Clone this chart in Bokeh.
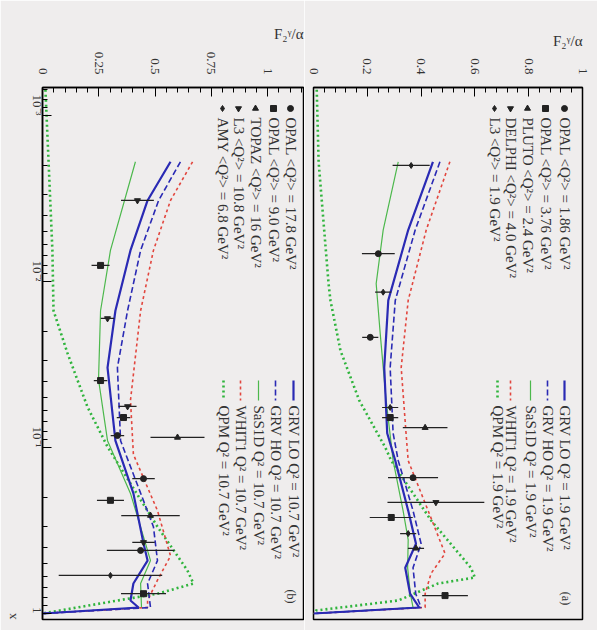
import math
from bokeh.plotting import figure
from bokeh.layouts import row
from bokeh.models import Range1d, FixedTicker, CustomJSTickFormatter, Label, ColumnDataSource, Title
from bokeh.embed import file_html
from bokeh.resources import INLINE

# ---------------- data ----------------
x_ticks = [0.001, 0.01, 0.1, 1.0]
x_tick_labels = ["10⁻³", "10⁻²", "10⁻¹", "1"]
b_f2_ticks = [0, 0.25, 0.5, 0.75, 1.0]
b_f2_labels = ["0", "0.25", "0.5", "0.75", "1"]
a_f2_ticks = [0, 0.2, 0.4, 0.6, 0.8, 1.0]
a_f2_labels = ["0", "0.2", "0.4", "0.6", "0.8", "1"]

# panel (a): low Q2
a_exp_names = ["OPAL <Q²> = 1.86 GeV²", "OPAL <Q²> = 3.76 GeV²", "PLUTO <Q²> = 2.4 GeV²",
               "DELPHI <Q²> = 4.0 GeV²", "L3 <Q²> = 1.9 GeV²"]
a_x = [0.0020, 0.0068, 0.0116, 0.0217, 0.0574, 0.066, 0.076, 0.152, 0.214, 0.264, 0.33, 0.405, 0.78]
a_f2 = [0.363, 0.241, 0.259, 0.211, 0.285, 0.285, 0.415, 0.370, 0.455, 0.289, 0.352, 0.381, 0.489]
a_err = [0.069, 0.061, 0.03, 0.03, 0.03, 0.03, 0.083, 0.093, 0.18, 0.08, 0.03, 0.03, 0.085]
a_exp = [4, 0, 4, 0, 4, 1, 2, 0, 3, 1, 4, 2, 1]

a_curve_names = ["GRV LO Q² = 1.9 GeV²", "GRV HO Q² = 1.9 GeV²", "SaS1D Q² = 1.9 GeV²",
                 "WHIT1 Q² = 1.9 GeV²", "QPM Q² = 1.9 GeV²"]
a_grvlo_x = [0.0019, 0.0049, 0.013, 0.033, 0.082, 0.12, 0.24, 0.38, 0.53, 0.76, 0.92, 1.0]
a_grvlo = [0.444, 0.352, 0.278, 0.263, 0.274, 0.304, 0.352, 0.381, 0.341, 0.359, 0.393, 0.0]
a_grvho_x = [0.0019, 0.0049, 0.013, 0.033, 0.082, 0.12, 0.24, 0.38, 0.53, 0.76, 0.92, 1.0]
a_grvho = [0.470, 0.378, 0.304, 0.285, 0.296, 0.315, 0.370, 0.400, 0.370, 0.380, 0.400, 0.0]
a_sas_x = [0.0019, 0.0049, 0.0103, 0.0206, 0.052, 0.12, 0.24, 0.36, 0.53, 0.76, 0.92, 1.0]
a_sas = [0.315, 0.259, 0.233, 0.248, 0.270, 0.296, 0.333, 0.352, 0.350, 0.360, 0.370, 0.0]
a_whit_x = [0.0019, 0.0049, 0.013, 0.033, 0.082, 0.12, 0.24, 0.435, 0.574, 0.76, 0.92, 1.0]
a_whit = [0.507, 0.419, 0.352, 0.326, 0.344, 0.352, 0.426, 0.489, 0.437, 0.415, 0.415, 0.0]
a_qpm_x = [0.0007, 0.0019, 0.0103, 0.013, 0.026, 0.052, 0.10, 0.12, 0.275, 0.53, 0.607, 0.66, 0.835, 0.959, 1.0]
a_qpm = [0.012, 0.019, 0.056, 0.063, 0.100, 0.170, 0.267, 0.289, 0.437, 0.585, 0.600, 0.463, 0.315, 0.010, 0.0]

# panel (b): higher Q2
b_exp_names = ["OPAL <Q²> = 17.8 GeV²", "OPAL <Q²> = 9.0 GeV²", "TOPAZ <Q²> = 16 GeV²",
               "L3 <Q²> = 10.8 GeV²", "AMY <Q²> = 6.8 GeV²"]
b_x = [0.00325, 0.008, 0.0167, 0.0395, 0.0566, 0.066, 0.0847, 0.087, 0.154, 0.208, 0.257, 0.373, 0.417, 0.59, 0.76]
b_f2 = [0.422, 0.258, 0.289, 0.258, 0.378, 0.360, 0.333, 0.600, 0.449, 0.302, 0.480, 0.449, 0.436, 0.302, 0.449]
b_err = [0.073, 0.04, 0.03, 0.03, 0.04, 0.03, 0.03, 0.12, 0.05, 0.06, 0.13, 0.05, 0.15, 0.23, 0.10]
b_exp = [3, 1, 3, 1, 3, 1, 0, 2, 0, 1, 2, 3, 0, 4, 1]

b_curve_names = ["GRV LO Q² = 10.7 GeV²", "GRV HO Q² = 10.7 GeV²", "SaS1D Q² = 10.7 GeV²",
                 "WHIT1 Q² = 10.7 GeV²", "QPM Q² = 10.7 GeV²"]
b_grvlo_x = [0.0019, 0.00325, 0.0065, 0.015, 0.033, 0.091, 0.189, 0.379, 0.48, 0.66, 0.835, 0.92, 1.0]
b_grvlo = [0.569, 0.467, 0.391, 0.324, 0.289, 0.324, 0.404, 0.449, 0.467, 0.404, 0.391, 0.427, 0.0]
b_grvho_x = [0.0019, 0.00325, 0.0065, 0.015, 0.033, 0.091, 0.30, 0.48, 0.66, 0.92, 1.0]
b_grvho = [0.613, 0.516, 0.436, 0.378, 0.333, 0.347, 0.493, 0.511, 0.467, 0.480, 0.0]
b_sas_x = [0.0019, 0.0065, 0.015, 0.039, 0.091, 0.189, 0.379, 0.48, 0.66, 0.92, 1.0]
b_sas = [0.413, 0.302, 0.258, 0.249, 0.289, 0.391, 0.458, 0.480, 0.436, 0.440, 0.0]
b_whit_x = [0.0019, 0.00325, 0.0065, 0.015, 0.052, 0.11, 0.24, 0.45, 0.63, 0.835, 0.92, 1.0]
b_whit = [0.667, 0.569, 0.493, 0.436, 0.391, 0.404, 0.511, 0.569, 0.511, 0.467, 0.467, 0.0]
b_qpm_x = [0.0007, 0.0019, 0.0065, 0.015, 0.027, 0.057, 0.099, 0.30, 0.55, 0.66, 0.76, 0.87, 1.0]
b_qpm = [0.013, 0.027, 0.044, 0.049, 0.111, 0.200, 0.289, 0.511, 0.644, 0.671, 0.511, 0.258, 0.0]

# ---------------- styling / layout ----------------
FONT = "Liberation Serif"
BG = "#efeded"
TXT = "#333333"
BLUE = "#2a2ab4"
RED = "#e2463e"
GREEN = "#4cb84c"
GREEN2 = "#2fb43c"
MARKERS = ["circle", "square", "triangle", "inverted_triangle", "diamond"]

XMIN = 10 ** ((87 - 613) / 166.0)
XMAX = 10 ** ((619 - 613) / 166.0)


def py2x(py):
    return 10 ** ((py - 613) / 166.0)


tick_fmt_code = """
const labs = %s; const vals = %s;
for (let i = 0; i < vals.length; i++) { if (Math.abs(Math.log10(tick) - Math.log10(vals[i])) < 1e-6) return labs[i]; }
return "";
"""


def style_axis(ax, standoff):
    ax.axis_line_color = "black"
    ax.axis_line_width = 1.5
    ax.major_tick_in = 9
    ax.major_tick_out = 0
    ax.minor_tick_in = 5
    ax.minor_tick_out = 0
    ax.major_label_text_font = FONT
    ax.major_label_text_font_size = "13px"
    ax.major_label_text_color = TXT
    ax.major_label_standoff = standoff


def make_panel(width, left, right, f2_end, f2_ticks, f2_labels, show_xaxis):
    p = figure(width=width, height=630, x_range=Range1d(0, f2_end),
               y_range=Range1d(XMAX, XMIN), y_axis_type="log",
               x_axis_location="above", output_backend="svg", toolbar_location=None,
               min_border_left=left, min_border_right=right,
               min_border_top=87, min_border_bottom=11)
    p.background_fill_color = BG
    p.border_fill_color = BG
    p.outline_line_color = "black"
    p.outline_line_width = 1.5
    p.xgrid.visible = False
    p.ygrid.visible = False

    xa = p.xaxis[0]
    xa.ticker = FixedTicker(ticks=f2_ticks, minor_ticks=[i * f2_ticks[1] / 5 for i in range(0, 40)])
    xa.major_label_overrides = {t: l for t, l in zip(f2_ticks, f2_labels)}
    xa.major_label_orientation = -math.pi / 2
    style_axis(xa, 13)
    ya = p.yaxis[0]
    ya.ticker.desired_num_ticks = 4
    ya.formatter = CustomJSTickFormatter(code=tick_fmt_code % (str(x_tick_labels).replace("'", '"'), str(x_ticks)))
    ya.major_label_orientation = -math.pi / 2
    style_axis(ya, 5)
    if not show_xaxis:
        ya.visible = False
    p.add_layout(Title(text="F₂ᵞ/α", align="right", text_font=FONT, text_font_size="15px",
                       text_font_style="normal", text_color=TXT, standoff=14), "above")
    return p


def add_curves(p, curves):
    for xs, ys, color, dash, w in curves:
        p.line(ys, xs, line_color=color, line_dash=dash, line_width=w)


def add_points(p, xs, f2s, errs, exps):
    lo = [f - e for f, e in zip(f2s, errs)]
    hi = [f + e for f, e in zip(f2s, errs)]
    src = ColumnDataSource(dict(x=xs, f2=f2s, lo=lo, hi=hi, m=[MARKERS[i] for i in exps]))
    p.segment(x0="lo", x1="hi", y0="x", y1="x", source=src, line_color="#222222", line_width=1.2)
    p.scatter(x="f2", y="x", marker="m", source=src, size=6, fill_color="#222222", line_color="#222222")


def add_legends(p, px2f2, data_cols, exp_names, curve_cols, curve_names, styles, tag, tag_pos):
    for col, name, mk in zip(data_cols, exp_names, MARKERS):
        p.scatter([px2f2(col)], [py2x(108)], marker=mk, size=6, fill_color="#222222", line_color="#222222")
        p.add_layout(Label(x=px2f2(col), y=py2x(117), text=name, angle=-math.pi / 2,
                           text_font=FONT, text_font_size="15px", text_align="left",
                           text_baseline="middle", text_color=TXT))
    for col, name, (color, dash, w) in zip(curve_cols, curve_names, styles):
        p.line([px2f2(col), px2f2(col)], [py2x(380), py2x(400)], line_color=color, line_dash=dash, line_width=w)
        p.add_layout(Label(x=px2f2(col), y=py2x(405), text=name, angle=-math.pi / 2,
                           text_font=FONT, text_font_size="15px", text_align="left",
                           text_baseline="middle", text_color=TXT))
    p.add_layout(Label(x=px2f2(tag_pos[0]), y=py2x(tag_pos[1]), text=tag, angle=-math.pi / 2,
                       text_font=FONT, text_font_size="12px", text_align="center",
                       text_baseline="middle", text_color=TXT))


styles = [(BLUE, "solid", 2.2), (BLUE, "6 3", 1.6), (GREEN, "solid", 1.2), (RED, "3 3", 1.6), (GREEN2, "2 3", 2.6)]

# left panel (b): frame from x=42 to x=303
pb = make_panel(304, 42, 1, 261 / 225.0, b_f2_ticks, b_f2_labels, True)
pb.add_layout(Title(text="x", align="left", text_font=FONT, text_font_size="13px",
                    text_font_style="normal", text_color=TXT, standoff=2), "left")
add_curves(pb, [(b_qpm_x, b_qpm) + styles[4], (b_sas_x, b_sas) + styles[2], (b_whit_x, b_whit) + styles[3],
                (b_grvho_x, b_grvho) + styles[1], (b_grvlo_x, b_grvlo) + styles[0]])
add_points(pb, b_x, b_f2, b_err, b_exp)
px2f2_b = lambda px: (px - 42) / 225.0
add_legends(pb, px2f2_b, [290, 273, 255, 238, 222], b_exp_names, [293, 275, 258, 240, 223], b_curve_names,
            styles, "(b)", (290, 596))

# right panel (a): frame from x=313 to x=582
pa = make_panel(293, 9, 15, 1.0, a_f2_ticks, a_f2_labels, False)
add_curves(pa, [(a_qpm_x, a_qpm) + styles[4], (a_sas_x, a_sas) + styles[2], (a_whit_x, a_whit) + styles[3],
                (a_grvho_x, a_grvho) + styles[1], (a_grvlo_x, a_grvlo) + styles[0]])
add_points(pa, a_x, a_f2, a_err, a_exp)
px2f2_a = lambda px: (px - 313) / 269.0
add_legends(pa, px2f2_a, [564, 545, 527, 510, 494], a_exp_names, [564, 547, 530, 510, 497], a_curve_names,
            styles, "(a)", (565, 598))

layout = row(pb, pa)
open("out.html", "w").write(file_html(layout, INLINE))
